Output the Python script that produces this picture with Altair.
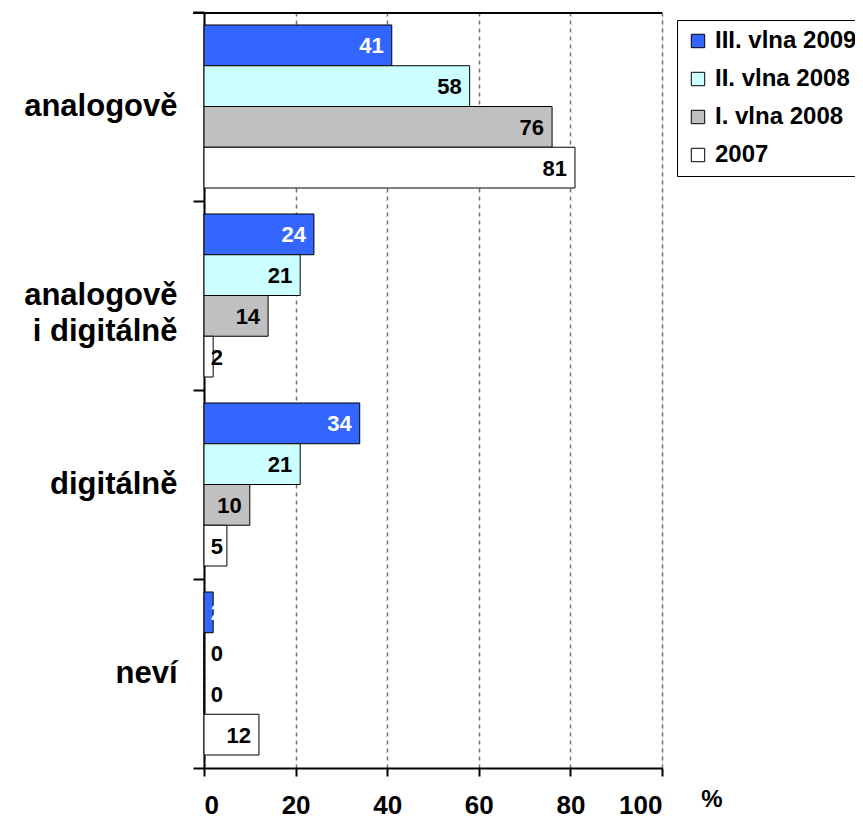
import altair as alt
import pandas as pd

categories = ["analogově", "analogově|i digitálně", "digitálně", "neví"]
series = ["III. vlna 2009", "II. vlna 2008", "I. vlna 2008", "2007"]
colors = ["#3366FF", "#CCFFFF", "#C0C0C0", "#FFFFFF"]
label_colors = ["#FFFFFF", "#000000", "#000000", "#000000"]

v_2009 = [41, 24, 34, 2]
v_2008b = [58, 21, 21, 0]
v_2008a = [76, 14, 10, 0]
v_2007 = [81, 2, 5, 12]
x_ticks = [0, 20, 40, 60, 80, 100]

rows = []
for s_i, (s, vals) in enumerate(zip(series, [v_2009, v_2008b, v_2008a, v_2007])):
    for c, v in zip(categories, vals):
        rows.append({"cat": c, "series": s, "value": v, "order": s_i,
                     "lc": label_colors[s_i]})
df = pd.DataFrame(rows)

FONT = "Liberation Sans"
W, H = 458, 756

y_enc = alt.Y("cat:N", sort=categories, title=None,
              scale=alt.Scale(paddingInner=0, paddingOuter=0),
              axis=alt.Axis(labelExpr="split(datum.label, '|')",
                            labelFont=FONT, labelFontSize=31, labelFontWeight="bold",
                            labelColor="black", labelAlign="right", labelPadding=16,
                            labelLineHeight=36, tickBand="extent", tickSize=11,
                            tickColor="black", tickWidth=2, domainColor="black",
                            domainWidth=2, grid=False, labelLimit=0))
yoff = alt.YOffset("series:N", sort=series,
                   scale=alt.Scale(paddingInner=0, paddingOuter=0.319))
x_scale = alt.Scale(domain=[0, 100], nice=False)

bars = alt.Chart(df).mark_bar(stroke="black", strokeWidth=1).encode(
    x=alt.X("value:Q", scale=x_scale, title=None,
            axis=alt.Axis(values=x_ticks, labelFont=FONT, labelFontSize=26,
                          labelFontWeight="bold", labelColor="black", labelPadding=16,
                          tickSize=8, tickColor="black", tickWidth=2,
                          domainColor="black", domainWidth=2,
                          grid=True, gridColor="#707070", gridDash=[4, 4], gridWidth=1.5)),
    y=y_enc,
    yOffset=yoff,
    fill=alt.Fill("series:N", sort=series,
                  scale=alt.Scale(domain=series, range=colors),
                  legend=alt.Legend(title=None, orient="none", legendX=473, legendY=8,
                                    strokeColor="black", fillColor="white", padding=9,
                                    symbolType="square", symbolSize=180,
                                    symbolStrokeColor="black", symbolStrokeWidth=1,
                                    labelFont=FONT, labelFontSize=24, labelFontWeight="bold",
                                    labelColor="black", rowPadding=14, labelOffset=5,
                                    labelLimit=0)),
)

labels = alt.Chart(df).transform_calculate(
    pos="max(datum.value, 5.9)"
).mark_text(font=FONT, fontSize=22, fontWeight="bold", align="right",
            baseline="middle", dx=-8, dy=1).encode(
    x=alt.X("pos:Q", scale=x_scale),
    y=alt.Y("cat:N", sort=categories),
    yOffset=yoff,
    text=alt.Text("value:Q"),
    color=alt.Color("lc:N", scale=None),
)

top_df = pd.DataFrame({"x0": [-2.4], "x1": [100]})
top_line = alt.Chart(top_df).mark_rule(color="black", strokeWidth=2).encode(
    x=alt.X("x0:Q", scale=x_scale), x2="x1:Q", y=alt.value(1))

pct = alt.Chart(pd.DataFrame({"t": ["%"]})).mark_text(
    font=FONT, fontSize=24, fontWeight="bold", color="black", align="center",
    baseline="middle").encode(x=alt.value(508), y=alt.value(H + 32), text="t:N")

chart = alt.layer(bars, labels, pct, top_line).properties(
    width=W, height=H,
    autosize=alt.AutoSizeParams(type="none"),
    padding={"left": 196, "top": 4, "right": 193, "bottom": 54},
).configure_view(strokeWidth=0).configure(background="white")

chart.save("out.html", embed_options={"renderer": "svg", "actions": False})
